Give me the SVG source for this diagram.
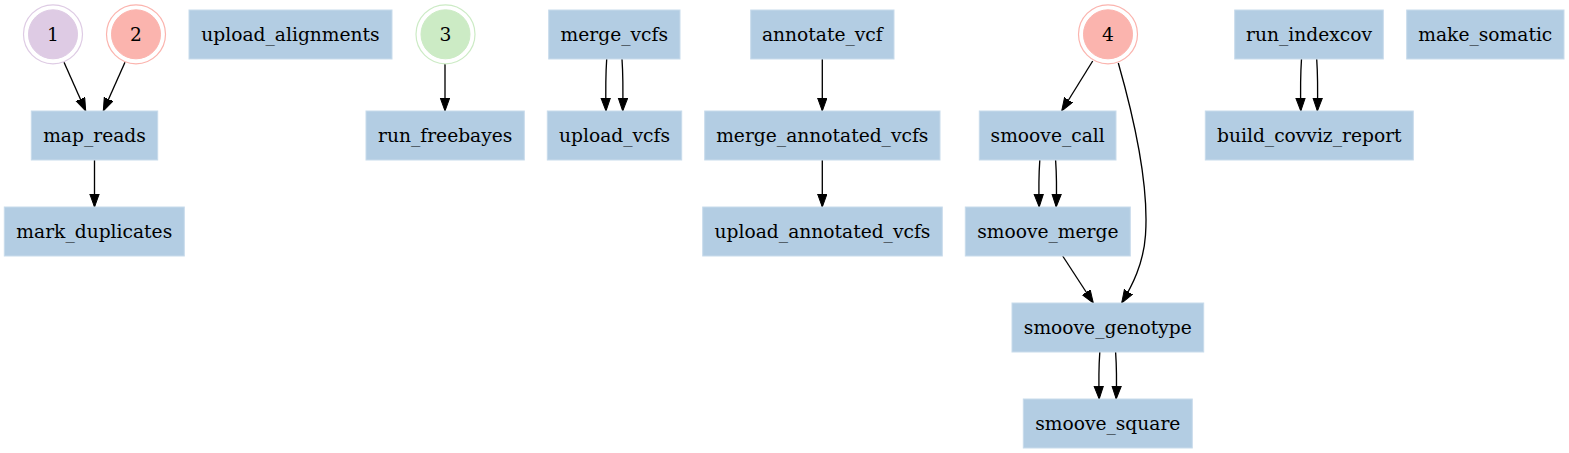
<svg xmlns="http://www.w3.org/2000/svg" width="1569" height="453" viewBox="0 0 1569 453">
<style>
.box{fill:#b3cde3;stroke:#c8dbeb;stroke-width:1}
.t{font-family:"DejaVu Serif","Liberation Serif",serif;font-size:18.67px;fill:#000;text-anchor:middle}
.e{fill:none;stroke:#000;stroke-width:1.33;marker-end:url(#ah)}
</style>
<defs>
<marker id="ah" markerUnits="userSpaceOnUse" markerWidth="14" markerHeight="11" viewBox="0 0 14 11" refX="13" refY="5" orient="auto">
<path d="M0,0.3 L13,5 L0,9.7 z" fill="#000" stroke="#000" stroke-width="1"/>
</marker>
</defs>
<rect width="1569" height="453" fill="#fff"/>
<g id="connectors">
<path class="e" d="M64,62.3 L85.7,111"/>
<path class="e" d="M125,62.3 L103.3,111"/>
<path class="e" d="M94.5,160 L94.5,207"/>
<path class="e" d="M445,64 L445,111"/>
<path class="e" d="M606.7,59 C605.6,75 605.6,92 606,111"/>
<path class="e" d="M622,59 C623.1,75 623.1,92 622.7,111"/>
<path class="e" d="M822.3,59 L822.3,111"/>
<path class="e" d="M822.3,160 L822.3,207"/>
<path class="e" d="M1092.7,61 L1061.7,111"/>
<path class="e" d="M1039.8,160 C1038.7,176 1038.7,192 1039.2,207"/>
<path class="e" d="M1055.6,160 C1056.7,176 1056.7,192 1056.2,207"/>
<path class="e" d="M1062.7,256 L1093.3,303"/>
<path class="e" d="M1118.3,63 C1134,118 1149,185 1145.5,235 C1143.5,264 1132,286 1121.7,303"/>
<path class="e" d="M1099.8,352 C1098.7,368 1098.7,384 1099.2,399"/>
<path class="e" d="M1115.6,352 C1116.7,368 1116.7,384 1116.2,399"/>
<path class="e" d="M1301.5,59 C1300.4,75 1300.4,92 1300.8,111"/>
<path class="e" d="M1316.7,59 C1317.8,75 1317.8,92 1317.4,111"/>
</g>
<g id="n1">
<circle cx="53" cy="34.3" r="29.5" fill="none" stroke="#decbe4" stroke-width="1.2"/>
<circle cx="53" cy="34.3" r="24.5" fill="#decbe4" stroke="#decbe4"/>
<text class="t" x="53" y="40.8">1</text>
</g>
<g id="n2">
<circle cx="136" cy="34.3" r="29.5" fill="none" stroke="#fbb4ae" stroke-width="1.2"/>
<circle cx="136" cy="34.3" r="24.5" fill="#fbb4ae" stroke="#fbb4ae"/>
<text class="t" x="136" y="40.8">2</text>
</g>
<g id="n3">
<circle cx="445.5" cy="34.3" r="29.5" fill="none" stroke="#ccebc5" stroke-width="1.2"/>
<circle cx="445.5" cy="34.3" r="24.5" fill="#ccebc5" stroke="#ccebc5"/>
<text class="t" x="445.5" y="40.8">3</text>
</g>
<g id="n4">
<circle cx="1108" cy="34.3" r="29.5" fill="none" stroke="#fbb4ae" stroke-width="1.2"/>
<circle cx="1108" cy="34.3" r="24.5" fill="#fbb4ae" stroke="#fbb4ae"/>
<text class="t" x="1108" y="40.8">4</text>
</g>
<g id="upload_alignments"><rect class="box" x="189" y="10" width="203" height="49"/><text class="t" x="290.5" y="41">upload_alignments</text></g>
<g id="merge_vcfs"><rect class="box" x="548.7" y="10" width="131.3" height="49"/><text class="t" x="614.3" y="41">merge_vcfs</text></g>
<g id="annotate_vcf"><rect class="box" x="750.7" y="10" width="143.3" height="49"/><text class="t" x="822.3" y="41">annotate_vcf</text></g>
<g id="run_indexcov"><rect class="box" x="1234.7" y="10" width="148.6" height="49"/><text class="t" x="1309" y="41">run_indexcov</text></g>
<g id="make_somatic"><rect class="box" x="1406.7" y="10" width="157.3" height="49"/><text class="t" x="1485.3" y="41">make_somatic</text></g>
<g id="map_reads"><rect class="box" x="31.3" y="111" width="126.4" height="49"/><text class="t" x="94.5" y="142">map_reads</text></g>
<g id="run_freebayes"><rect class="box" x="366" y="111" width="158.3" height="49"/><text class="t" x="445.2" y="142">run_freebayes</text></g>
<g id="upload_vcfs"><rect class="box" x="547.3" y="111" width="134.4" height="49"/><text class="t" x="614.5" y="142">upload_vcfs</text></g>
<g id="merge_annotated_vcfs"><rect class="box" x="704.7" y="111" width="235.3" height="49"/><text class="t" x="822.3" y="142">merge_annotated_vcfs</text></g>
<g id="smoove_call"><rect class="box" x="979.3" y="111" width="136.7" height="49"/><text class="t" x="1047.7" y="142">smoove_call</text></g>
<g id="build_covviz_report"><rect class="box" x="1205.3" y="111" width="208" height="49"/><text class="t" x="1309.3" y="142">build_covviz_report</text></g>
<g id="mark_duplicates"><rect class="box" x="4.3" y="207" width="180" height="49"/><text class="t" x="94.3" y="238">mark_duplicates</text></g>
<g id="upload_annotated_vcfs"><rect class="box" x="702.7" y="207" width="239.6" height="49"/><text class="t" x="822.5" y="238">upload_annotated_vcfs</text></g>
<g id="smoove_merge"><rect class="box" x="965.3" y="207" width="165" height="49"/><text class="t" x="1047.8" y="238">smoove_merge</text></g>
<g id="smoove_genotype"><rect class="box" x="1012" y="303" width="191.7" height="49"/><text class="t" x="1107.8" y="334">smoove_genotype</text></g>
<g id="smoove_square"><rect class="box" x="1023.3" y="399" width="169" height="49"/><text class="t" x="1107.8" y="430">smoove_square</text></g>
</svg>
